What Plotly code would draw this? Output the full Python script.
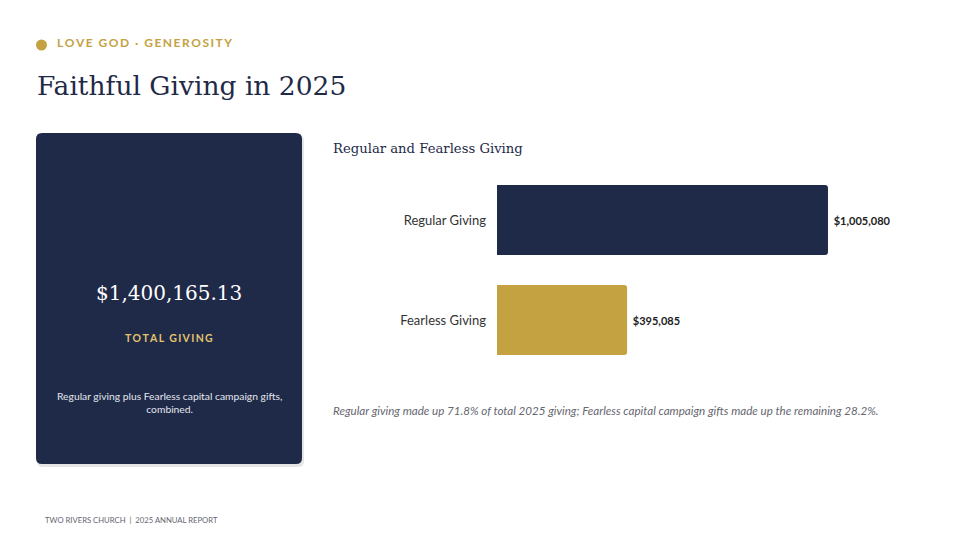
import plotly.graph_objects as go

# ---- data ----
categories = ["Regular Giving", "Fearless Giving"]
values = [1005080, 395085]
bar_colors = ["#1F2A48", "#C4A242"]
total_giving = 1400165.13

eyebrow = "LOVE GOD · GENEROSITY"
title = "Faithful Giving in 2025"
chart_title = "Regular and Fearless Giving"
card_label = "TOTAL GIVING"
card_desc = "Regular giving plus Fearless capital campaign gifts,<br>combined."
footer = "TWO RIVERS CHURCH  |  2025 ANNUAL REPORT"

W, H = 960, 540
OFF = 8  # page body margin offset
NAVY = "#1F2A48"
GOLD = "#C4A242"
SANS = "Lato, 'Open Sans', sans-serif"
SERIF = "'DejaVu Serif', 'Liberation Serif', serif"


def px(x):
    return (x - OFF) / W


def py(y):
    return 1 - (y - OFF) / H


def spaced(s, sep="\u2009"):
    return sep.join(list(s))


def rounded_rect(x0, y0, x1, y1, r):
    rx, ry = r / W, r / H
    X0, X1 = px(x0), px(x1)
    Y0, Y1 = py(y0), py(y1)  # Y0 top (larger), Y1 bottom
    return (f"M {X0+rx},{Y0} L {X1-rx},{Y0} Q {X1},{Y0} {X1},{Y0-ry} "
            f"L {X1},{Y1+ry} Q {X1},{Y1} {X1-rx},{Y1} L {X0+rx},{Y1} "
            f"Q {X0},{Y1} {X0},{Y1+ry} L {X0},{Y0-ry} Q {X0},{Y0} {X0+rx},{Y0} Z")


total = sum(values)
pcts = [v / total * 100 for v in values]
caption = (f"Regular giving made up {pcts[0]:.1f}% of total 2025 giving; "
           f"Fearless capital campaign gifts made up the remaining {pcts[1]:.1f}%.")

fig = go.Figure()
fig.add_trace(go.Bar(
    y=categories, x=values, orientation="h",
    marker=dict(color=bar_colors, line=dict(width=0), cornerradius=3),
    width=0.7,
    texttemplate="\u2009\u2009$%{x:,.0f}", textposition="outside",
    textfont=dict(family=SANS, size=11, color="#222222", weight="bold"),
    cliponaxis=False, hoverinfo="skip", showlegend=False,
))

shapes = [
    # card shadow
    dict(type="path", xref="paper", yref="paper", path=rounded_rect(37, 135, 304, 467, 6),
         fillcolor="rgba(0,0,0,0.10)", line=dict(width=0), layer="below"),
    dict(type="path", xref="paper", yref="paper", path=rounded_rect(36, 133, 302, 464, 6),
         fillcolor=NAVY, line=dict(width=0), layer="below"),
    # gold dot
    dict(type="circle", xref="paper", yref="paper",
         x0=px(36), x1=px(47), y0=py(39.5), y1=py(50.5),
         fillcolor=GOLD, line=dict(width=0)),
]

annotations = [
    dict(text=f"<b>{spaced(eyebrow)}</b>", x=px(55), y=py(42), xanchor="left", yanchor="middle",
         font=dict(family=SANS, size=12, color=GOLD)),
    dict(text=title, x=px(35), y=py(85), xanchor="left", yanchor="middle",
         font=dict(family=SERIF, size=26.5, color=NAVY)),
    dict(text=chart_title, x=px(331), y=py(148), xanchor="left", yanchor="middle",
         font=dict(family=SERIF, size=13.2, color=NAVY)),
    dict(text=f"${total_giving:,.2f}", x=px(169), y=py(293), xanchor="center", yanchor="middle",
         font=dict(family=SERIF, size=20, color="#FFFFFF")),
    dict(text=f"<b>{spaced(card_label)}</b>", x=px(169), y=py(338), xanchor="center", yanchor="middle",
         font=dict(family=SANS, size=10.5, color="#E2C36C")),
    dict(text=card_desc, x=px(169), y=py(402), xanchor="center", yanchor="middle",
         font=dict(family=SANS, size=10.3, color="#E4E6EE")),
    dict(text=f"<i>{caption}</i>", x=px(331), y=py(410), xanchor="left", yanchor="middle",
         font=dict(family=SANS, size=11.6, color="#666670")),
    dict(text=footer, x=px(43), y=py(520), xanchor="left", yanchor="middle",
         font=dict(family=SANS, size=7.7, color="#666670")),
]
for a in annotations:
    a.update(xref="paper", yref="paper", showarrow=False, align="center")

fig.update_layout(
    width=W, height=H,
    margin=dict(l=0, r=0, t=0, b=0),
    paper_bgcolor="#FFFFFF", plot_bgcolor="rgba(0,0,0,0)",
    shapes=shapes, annotations=annotations,
    xaxis=dict(domain=[px(497), px(900)], range=[0, 1223800], visible=False, fixedrange=True),
    yaxis=dict(domain=[py(370), py(170)], type="category", range=[1.5, -0.5],
               showgrid=False, zeroline=False, showline=False, ticks="",
               ticklabelstandoff=10,
               tickfont=dict(family=SANS, size=13, color="#333333"), fixedrange=True),
    bargap=0.3,
)

fig.write_html("out.html")
